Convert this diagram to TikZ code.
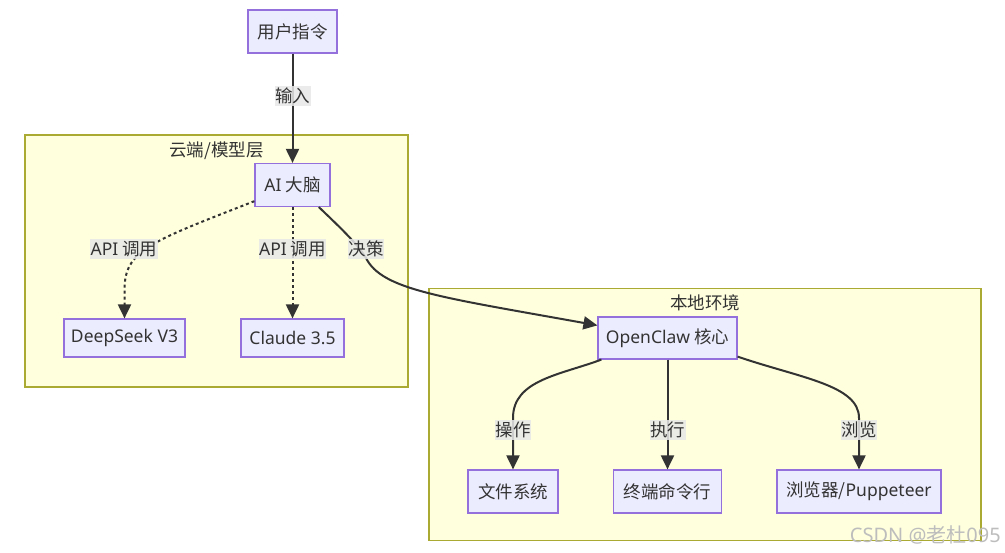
\documentclass[tikz,border=0pt]{standalone}
\usepackage{fontspec}
\setmainfont{Noto Sans CJK SC}
\newfontfamily\lat{Noto Sans}
\usetikzlibrary{arrows.meta,calc}
\definecolor{nodefill}{HTML}{ECECFF}
\definecolor{nodeborder}{HTML}{9370DB}
\definecolor{clfill}{HTML}{FFFFDE}
\definecolor{clborder}{HTML}{AAAA33}
\definecolor{edgecol}{HTML}{333333}
\definecolor{txt}{HTML}{333333}
\definecolor{lblbg}{HTML}{E8E8E8}
\definecolor{wm}{HTML}{BDBDBD}
\begin{document}
\begin{tikzpicture}[x=1pt,y=-1pt,
  box/.style={draw=nodeborder, fill=nodefill, line width=1.2pt, inner sep=0pt, text=txt, font=\fontsize{17.5}{20}\selectfont},
  cluster/.style={draw=clborder, fill=clfill, line width=1.2pt, inner sep=0pt},
  ctitle/.style={text=txt, font=\fontsize{17.5}{20}\selectfont, inner sep=0pt},
  elabel/.style={fill=lblbg, fill opacity=0.85, text opacity=1, text=txt, inner xsep=0.5pt, inner ysep=0pt, minimum height=20pt, font=\fontsize{17.5}{20}\selectfont},
  edge/.style={draw=edgecol, line width=2pt, -{Triangle[length=14pt,width=13pt]}},
  dotedge/.style={edge, dash pattern=on 3pt off 3pt},
]
\useasboundingbox[fill=white] (0,0) rectangle (1005,553);

% clusters
\node[cluster, minimum width=383pt, minimum height=252pt] (c1) at (216.5,261) {};
\node[cluster, minimum width=552pt, minimum height=252pt] (c2) at (705,414.5) {};
\node[ctitle] (t1) at (216.5,151) {云端/模型层};
\node[ctitle] (t2) at (705,303) {本地环境};

% nodes
\node[box, minimum width=89pt, minimum height=43pt] (user) at (292.5,31.5) {用户指令};
\node[box, minimum width=75pt, minimum height=43pt] (ai) at (292.5,185) {{\lat AI} 大脑};
\node[box, minimum width=121pt, minimum height=38pt] (ds) at (124.5,338) {\lat DeepSeek V3};
\node[box, minimum width=103pt, minimum height=38pt] (claude) at (292.5,338) {\lat Claude 3.5};
\node[box, minimum width=139pt, minimum height=42pt] (oc) at (667.5,338) {{\lat OpenClaw} 核心};
\node[box, minimum width=90pt, minimum height=43pt] (fs) at (513,491.5) {文件系统};
\node[box, minimum width=108pt, minimum height=43pt] (term) at (667.5,491.5) {终端命令行};
\node[box, minimum width=164pt, minimum height=43pt] (br) at (859,491.5) {浏览器/{\lat Puppeteer}};

% edges
\draw[edge] (user) -- (ai);
\draw[dotedge] (ai.203) .. controls (150,242) and (124.5,250) .. (124.5,290) -- (ds.north);
\draw[dotedge] (ai) -- (claude);
\draw[edge] (ai.-40) .. controls (345,232) and (358,245) .. (366,258) .. controls (382,290) and (440,297) .. ($(oc.north west)+(0,9)$);
\draw[edge] ($(oc.south west)+(4,0)$) .. controls (560,375) and (513,380) .. (513,418) -- (fs.north);
\draw[edge] (oc) -- (term);
\draw[edge] ($(oc.south east)+(0,-3)$) .. controls (800,378) and (859,385) .. (859,418) -- (br.north);

% edge labels
\node[elabel] (l1) at (292.5,96) {输入};
\node[elabel] (l2) at (124,249) {{\lat API} 调用};
\node[elabel] (l3) at (292.5,249) {{\lat API} 调用};
\node[elabel] (l4) at (366,249) {决策};
\node[elabel] (l5) at (513,430) {操作};
\node[elabel] (l6) at (667.5,430) {执行};
\node[elabel] (l7) at (859,430) {浏览};

% watermark
\node[anchor=east, text=wm, inner sep=0pt, font=\fontsize{20}{22}\selectfont] (wmk) at (1001,535) {{\lat CSDN @}老杜{\lat 095}};
\end{tikzpicture}
\end{document}
